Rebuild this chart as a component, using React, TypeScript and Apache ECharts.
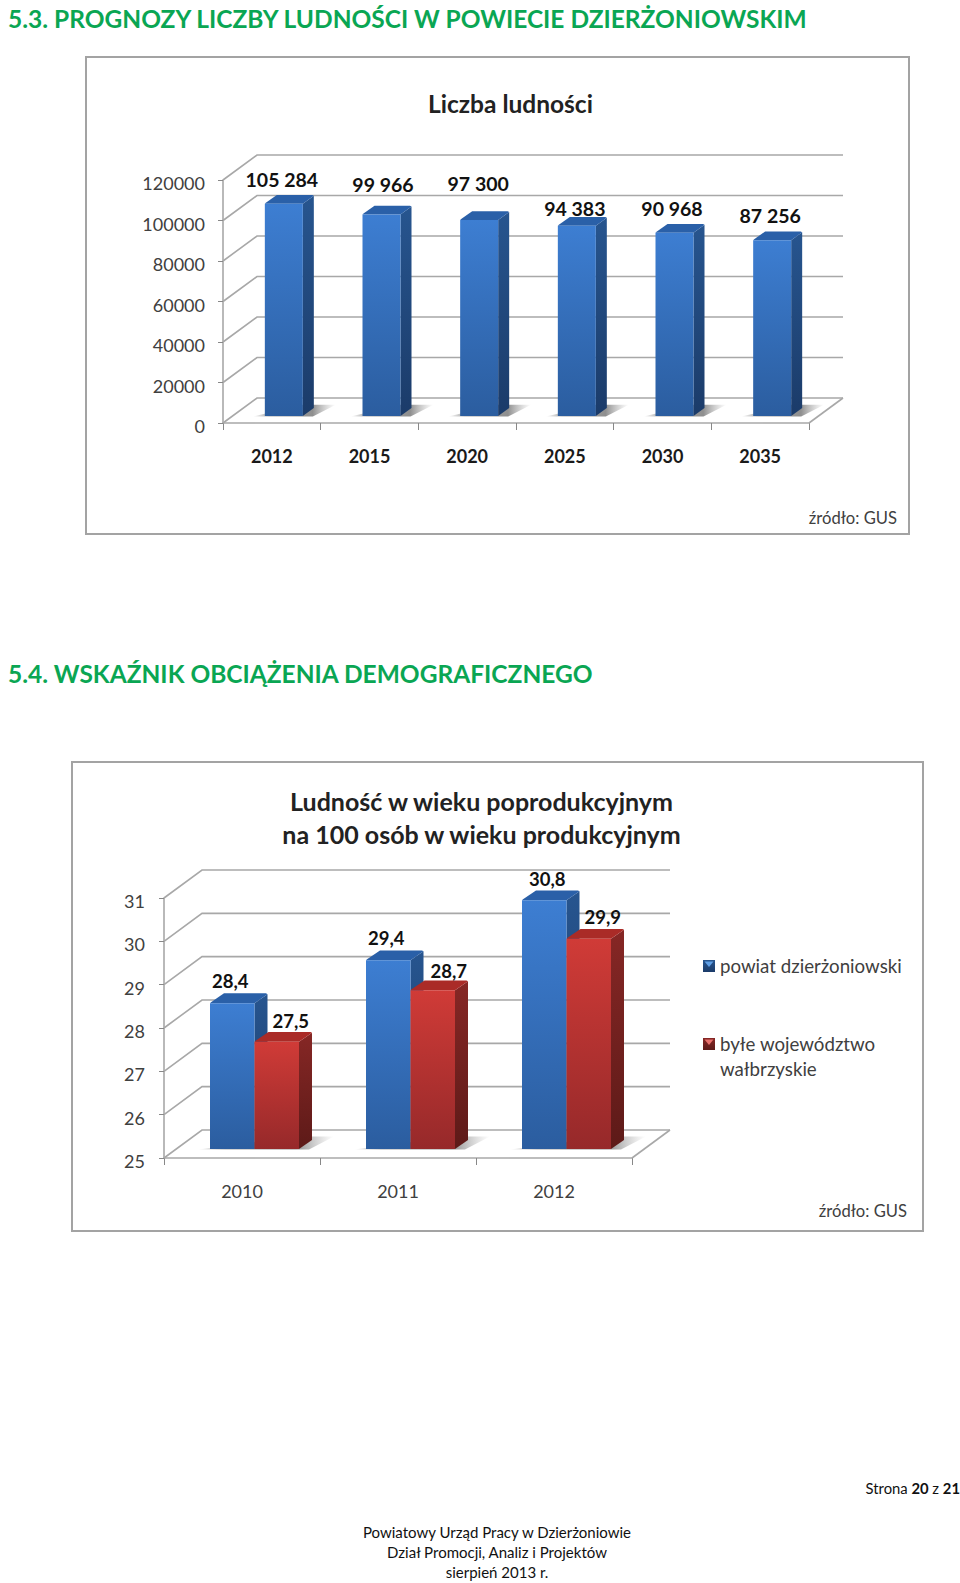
import React, { useEffect, useRef } from "react";
import * as echarts from "echarts";

const heading1 = "5.3. PROGNOZY LICZBY LUDNOŚCI W POWIECIE DZIERŻONIOWSKIM";
const heading2 = "5.4. WSKAŹNIK OBCIĄŻENIA DEMOGRAFICZNEGO";
const title1 = "Liczba ludności";
const title2 = "Ludność w wieku poprodukcyjnym\nna 100 osób w wieku produkcyjnym";
const sourceText = "źródło: GUS";

const years1 = ["2012", "2015", "2020", "2025", "2030", "2035"];
const population = [105284, 99966, 97300, 94383, 90968, 87256];
const ticks1 = [0, 20000, 40000, 60000, 80000, 100000, 120000];

const years2 = ["2010", "2011", "2012"];
const seriesName2a = "powiat dzierżoniowski";
const seriesName2b = "byłe województwo\nwałbrzyskie";
const powiat = [28.4, 29.4, 30.8];
const wojewodztwo = [27.5, 28.7, 29.9];
const ticks2 = [25, 26, 27, 28, 29, 30, 31];

const footerLines = ["Powiatowy Urząd Pracy w Dzierżoniowie", "Dział Promocji, Analiz i Projektów", "sierpień 2013 r."];

// label nudges relative to the bar's top centre, as placed by hand in the original
const nudge1 = [[-2, -24], [1.5, -30], [-1, -36], [-2, -17], [-2.5, -24], [-2, -25]];
const nudge2a = [[-2, -22], [-2, -22], [3, -21]];
const nudge2b = [[14, -21], [16, -19], [14, -22]];

const FONT = "Lato";
const LINE = "#a8a8a8";
const TXT = "#404040";

const BLUE = { front: ["#3d7ed2", "#2b5d9f"], side: ["#27558f", "#1b3b69"], top: "#2a60a8" };
const RED = { front: ["#d03b37", "#96292a"], side: ["#862725", "#5d1a18"], top: "#aa2b27" };

const vgrad = (a: string, b: string) => ({
  type: "linear", x: 0, y: 0, x2: 0, y2: 1,
  colorStops: [{ offset: 0, color: a }, { offset: 1, color: b }],
});

function fmt1(v: number) {
  return String(v).replace(/(\d)(?=(\d{3})$)/, "$1 ");
}
function fmt2(v: number) {
  return v.toFixed(1).replace(".", ",");
}

type Wall = { dx: number; dy: number };

function wallSeries(xAxisIndex: number, ticks: number[], wall: Wall, floorY: number) {
  return {
    type: "custom", xAxisIndex, yAxisIndex: xAxisIndex, silent: true, clip: false, z: 1,
    data: ticks.map((t) => [0, t]),
    encode: { x: 0, y: 1 },
    renderItem: (params: any, api: any) => {
      const cs = params.coordSys;
      const y = api.coord([0, api.value(1)])[1];
      const style = { stroke: LINE, lineWidth: 1.6, fill: "none" };
      const children: any[] = [{
        type: "polyline",
        shape: { points: [[cs.x, y], [cs.x + wall.dx, y + wall.dy], [cs.x + cs.width + wall.dx, y + wall.dy]] },
        style,
      }];
      if (api.value(1) === floorY) {
        children.push({
          type: "line",
          shape: { x1: cs.x + cs.width, y1: y, x2: cs.x + cs.width + wall.dx, y2: y + wall.dy },
          style,
        });
      }
      return { type: "group", children };
    },
  };
}

type BarOpts = {
  name: string; xAxisIndex: number; values: number[]; min: number; colors: typeof BLUE;
  from: number; to: number; lift: number; sideX: number; sideY: number; scale: number;
  shadowTo: number | null; nudge: number[][]; format: (v: number) => string; labelSize: number; z: number;
};

function barSeries(o: BarOpts) {
  return {
    type: "custom", name: o.name, xAxisIndex: o.xAxisIndex, yAxisIndex: o.xAxisIndex, clip: false, z: o.z,
    itemStyle: { color: o.colors.front[0] },
    data: o.values.map((v, i) => [i, v]),
    encode: { x: 0, y: 1 },
    renderItem: (params: any, api: any) => {
      const idx = api.value(0);
      const val = api.value(1);
      const c = api.coord([idx, val]);
      const base = api.coord([idx, o.min]);
      const x0 = c[0] + o.from;
      const x1 = c[0] + o.to;
      const yb = base[1] - o.lift;
      const yt = yb - (base[1] - c[1]) * o.scale;
      const sx = o.sideX;
      const sy = o.sideY;
      const children: any[] = [];
      if (o.shadowTo !== null) {
        const sEnd = c[0] + o.shadowTo;
        children.push({
          type: "polygon",
          shape: { points: [[x0 - 12, yb + 0.5], [sEnd + 10, yb + 0.5], [sEnd + sx + 22, yb - sy * 1.4], [sEnd, yb - sy * 1.4]] },
          style: {
            fill: {
              type: "linear", x: 0, y: 0, x2: 1, y2: 0,
              colorStops: [
                { offset: 0, color: "rgba(150,150,150,0)" },
                { offset: 0.2, color: "rgba(150,150,150,0.8)" },
                { offset: 0.72, color: "rgba(130,130,130,0.9)" },
                { offset: 1, color: "rgba(170,170,170,0)" },
              ],
            },
          },
        });
      }
      children.push({
        type: "polygon",
        shape: { points: [[x1, yt], [x1 + sx, yt - sy], [x1 + sx, yb - sy], [x1, yb]] },
        style: { fill: vgrad(o.colors.side[0], o.colors.side[1]) },
      });
      children.push({
        type: "polygon",
        shape: { points: [[x0, yt], [x1, yt], [x1 + sx, yt - sy], [x1 + sx - 1.5, yt - sy - 0.8], [x0 + sx + 1, yt - sy - 0.8], [x0 + 1, yt - 1]] },
        style: { fill: o.colors.top },
      });
      children.push({
        type: "rect",
        shape: { x: x0, y: yt, width: x1 - x0, height: yb - yt },
        style: { fill: vgrad(o.colors.front[0], o.colors.front[1]) },
      });
      const n = o.nudge[idx];
      children.push({
        type: "text",
        x: (x0 + x1) / 2 + n[0],
        y: yt + n[1],
        z2: 50,
        style: {
          text: o.format(val), fill: "#111", fontFamily: FONT, fontWeight: "bold", fontSize: o.labelSize,
          align: "center", verticalAlign: "middle",
        },
      });
      return { type: "group", children };
    },
  };
}

function legendMark(x: number, y: number, c: typeof BLUE, light: string) {
  return [
    { type: "rect", shape: { x, y, width: 12, height: 12 }, style: { fill: vgrad(c.side[0], c.side[1]) } },
    { type: "polygon", shape: { points: [[x + 1.5, y + 1.5], [x + 10.5, y + 1.5], [x + 6, y + 7]] }, style: { fill: light } },
  ];
}

function pageText(text: string, x: number, y: number, size: number, fill: string, bold = false, align = "left") {
  return {
    type: "text", x, y,
    style: { text, fill, fontFamily: FONT, fontSize: size, fontWeight: bold ? "bold" : "normal", align, verticalAlign: "middle" },
  };
}

function axisLabelStyle(bold: boolean) {
  return { fontFamily: FONT, fontSize: 18, color: bold ? "#1a1a1a" : TXT, fontWeight: bold ? "bold" : "normal" };
}

// y tick labels sit a little below their tick, so they go through a padded rich token
const yLabelRich = { v: { fontFamily: FONT, fontSize: 18, color: TXT, padding: [6, 0, 0, 0] } };
const yLabelFormat = (v: number) => `{v|${v}}`;

export default function App() {
  const ref = useRef<HTMLDivElement>(null);
  useEffect(() => {
    const chart = echarts.init(ref.current!, undefined, { renderer: "svg" });
    const GREEN = "#0aa653";
    chart.setOption({
      animation: false,
      backgroundColor: "#fff",
      title: [
        { text: title1, left: 505.5, top: 86, textAlign: "center", textStyle: { fontFamily: FONT, fontSize: 24.5, fontWeight: "bold", color: "#222" } },
        { text: title2, left: 476.5, top: 780, textAlign: "center", textStyle: { fontFamily: FONT, fontSize: 25, fontWeight: "bold", color: "#222", lineHeight: 32.5 } },
      ],
      grid: [
        { left: 223, top: 180, width: 586, height: 243, containLabel: false },
        { left: 164, top: 898, width: 468, height: 260, containLabel: false },
      ],
      xAxis: [
        {
          type: "category", gridIndex: 0, data: years1,
          axisLine: { lineStyle: { color: LINE, width: 1.6 } },
          axisTick: { show: true, length: 7, lineStyle: { color: "#888" } },
          axisLabel: { ...axisLabelStyle(true), margin: 24 },
        },
        {
          type: "category", gridIndex: 1, data: years2,
          axisLine: { lineStyle: { color: LINE, width: 1.6 } },
          axisTick: { show: true, length: 7, lineStyle: { color: "#888" } },
          axisLabel: { ...axisLabelStyle(false), margin: 24 },
        },
      ],
      yAxis: [
        {
          type: "value", gridIndex: 0, min: ticks1[0], max: ticks1[ticks1.length - 1], interval: 20000,
          splitLine: { show: false },
          axisLine: { show: true, lineStyle: { color: LINE, width: 1.6 } },
          axisTick: { show: true, length: 5, lineStyle: { color: "#888" } },
          axisLabel: { margin: 18, formatter: yLabelFormat, rich: yLabelRich },
        },
        {
          type: "value", gridIndex: 1, min: ticks2[0], max: ticks2[ticks2.length - 1], interval: 1,
          splitLine: { show: false },
          axisLine: { show: true, lineStyle: { color: LINE, width: 1.6 } },
          axisTick: { show: true, length: 5, lineStyle: { color: "#888" } },
          axisLabel: { margin: 19, formatter: yLabelFormat, rich: yLabelRich },
        },
      ],
      series: [
        wallSeries(0, ticks1, { dx: 34, dy: -25 }, 0),
        wallSeries(1, ticks2, { dx: 38, dy: -28 }, 25),
        barSeries({
          name: title1, xAxisIndex: 0, values: population, min: 0, colors: BLUE,
          from: -7, to: 31, lift: 7, sideX: 11, sideY: 8, scale: 0.995, shadowTo: 31,
          nudge: nudge1, format: fmt1, labelSize: 19.5, z: 2,
        }),
        barSeries({
          name: seriesName2a, xAxisIndex: 1, values: powiat, min: 25, colors: BLUE,
          from: -32, to: 12.5, lift: 9, sideX: 13, sideY: 9, scale: 0.99, shadowTo: 57,
          nudge: nudge2a, format: fmt2, labelSize: 18.5, z: 2,
        }),
        barSeries({
          name: seriesName2b, xAxisIndex: 1, values: wojewodztwo, min: 25, colors: RED,
          from: 12.5, to: 57, lift: 9, sideX: 13, sideY: 9, scale: 0.99, shadowTo: null,
          nudge: nudge2b, format: fmt2, labelSize: 18.5, z: 3,
        }),
      ],
      graphic: [
        { type: "rect", z: 0, shape: { x: 86, y: 57, width: 823, height: 477 }, style: { fill: "none", stroke: "#a3a3a3", lineWidth: 2 } },
        { type: "rect", z: 0, shape: { x: 72, y: 762, width: 851, height: 469 }, style: { fill: "none", stroke: "#a3a3a3", lineWidth: 2 } },
        pageText(heading1, 8, 18.5, 24.5, GREEN, true),
        pageText(heading2, 8, 673.5, 24.5, GREEN, true),
        pageText(sourceText, 897, 518, 16.6, TXT, false, "right"),
        pageText(sourceText, 907, 1211, 16.6, TXT, false, "right"),
        ...legendMark(703, 960, BLUE, "#5f9fe6"),
        ...legendMark(703, 1038, RED, "#e9706c"),
        pageText(seriesName2a, 720, 966, 18.7, TXT),
        { type: "text", x: 720, y: 1031, style: { text: seriesName2b, fill: TXT, fontFamily: FONT, fontSize: 18.7, lineHeight: 25, align: "left", verticalAlign: "top" } },
        {
          type: "text", x: 960, y: 1488,
          style: {
            text: "Strona {b|20} z {b|21}", fill: "#111", fontFamily: FONT, fontSize: 14.8, align: "right", verticalAlign: "middle",
            rich: { b: { fontFamily: FONT, fontSize: 14.8, fontWeight: "bold", fill: "#111" } },
          },
        },
        pageText(footerLines[0], 497, 1532, 15, "#111", false, "center"),
        pageText(footerLines[1], 497, 1552, 15, "#111", false, "center"),
        pageText(footerLines[2], 497, 1572, 15, "#111", false, "center"),
      ],
    });
    return () => chart.dispose();
  }, []);
  return <div ref={ref} style={{ position: "absolute", left: 0, top: 0, width: 960, height: 1583 }} />;
}
